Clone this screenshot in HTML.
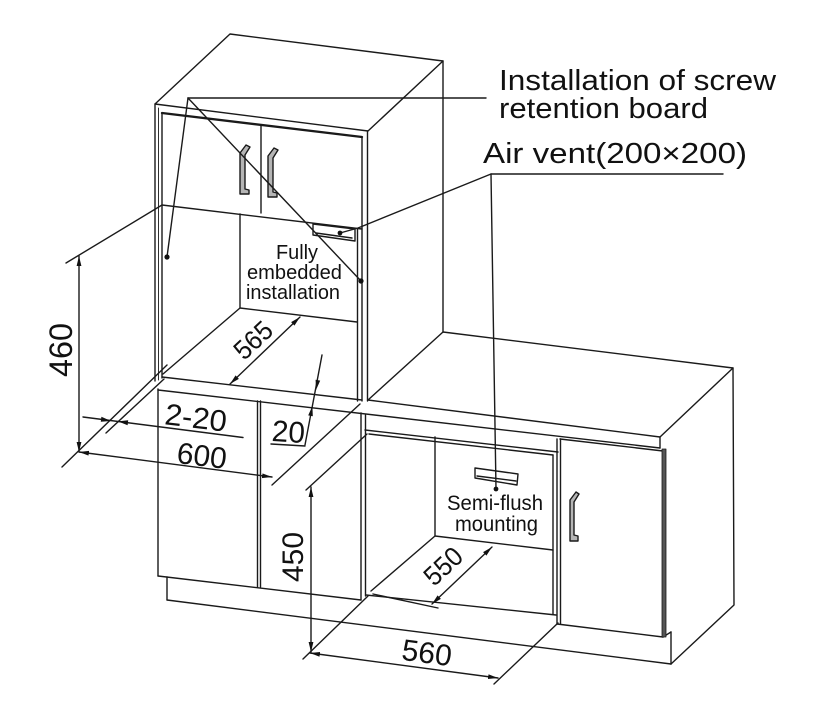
<!DOCTYPE html>
<html>
<head>
<meta charset="utf-8">
<style>
html,body{margin:0;padding:0;background:#fff;}
svg{display:block;}
text{font-family:"Liberation Sans",Arial,sans-serif;fill:#111;stroke:none;}
</style>
</head>
<body>
<svg width="838" height="706" viewBox="0 0 838 706" xmlns="http://www.w3.org/2000/svg">
<defs>
<marker id="a" markerWidth="10" markerHeight="6" refX="10" refY="3" orient="auto-start-reverse" markerUnits="userSpaceOnUse">
<path d="M0,0.6 L10,3 L0,5.4 z" fill="#111"/>
</marker>
</defs>
<rect width="838" height="706" fill="#fff"/>
<g stroke="#1a1a1a" stroke-width="1.4" fill="none" stroke-linejoin="round" stroke-linecap="round">
<!-- Tall cabinet -->
<polygon points="230,34 443,61 368,131 155,104"/>
<line x1="443" y1="61" x2="443" y2="332"/>
<line x1="155" y1="104" x2="155" y2="381"/>
<line x1="158.5" y1="108" x2="158.5" y2="380" stroke-width="0.9"/>
<line x1="162" y1="113" x2="162" y2="378"/>
<line x1="367.5" y1="131" x2="367.5" y2="401"/>
<line x1="362" y1="137" x2="362" y2="401"/>
<line x1="357.5" y1="229" x2="357.5" y2="401"/>
<line x1="162" y1="113" x2="362" y2="137" stroke-width="2.3"/>
<line x1="162" y1="205" x2="362" y2="229"/>
<line x1="261" y1="126" x2="261" y2="213"/>
<!-- upper opening -->
<polyline points="240,214 240,308 357,322"/>
<line x1="240" y1="308" x2="163" y2="374"/>
<line x1="162" y1="377" x2="362" y2="400"/>
<line x1="158" y1="390" x2="660" y2="448"/>
<!-- upper vent -->
<polygon points="313,224 313,235 355,241 355,229"/>
<line x1="316" y1="233" x2="352" y2="238"/>
<!-- handles upper -->
<polygon points="240,153 246,145 250,147 245,155 245,189 249,190 249,194 240,194" fill="#b5b5b5"/>
<polygon points="268,156 274,148 278,150 273,158 273,192 277,193 277,197 268,197" fill="#b5b5b5"/>
<!-- Lower left cabinet -->
<line x1="158" y1="389" x2="158" y2="576"/>
<line x1="257.5" y1="401" x2="257.5" y2="587"/>
<line x1="260.5" y1="401" x2="260.5" y2="587"/>
<line x1="361" y1="413" x2="361" y2="600"/>
<line x1="158" y1="576" x2="361" y2="600"/>
<line x1="167" y1="577" x2="167" y2="600"/>
<line x1="167" y1="600" x2="671" y2="664"/>
<!-- Counter -->
<polygon points="443,332 733,368 660,437 368,400"/>
<line x1="660" y1="437" x2="660" y2="448"/>
<polyline points="733,368 734,605 671,664"/>
<line x1="671" y1="632" x2="671" y2="664"/>
<line x1="663" y1="637" x2="671" y2="632"/>
<!-- Right door -->
<line x1="557" y1="439" x2="557" y2="624"/>
<line x1="560.5" y1="439" x2="560.5" y2="624"/>
<line x1="560" y1="439" x2="663" y2="451"/>
<line x1="557" y1="624" x2="663" y2="637"/>
<rect x="662" y="449" width="4" height="188" fill="#555" stroke-width="0.8"/>
<polygon points="570,500 576,492 579,494 574,502 574,535 578,536 578,541 570,541" fill="#b5b5b5"/>
<!-- Lower opening -->
<line x1="365.5" y1="415" x2="365.5" y2="596"/>
<line x1="365" y1="430" x2="558" y2="452"/>
<line x1="369" y1="434" x2="553" y2="455"/>
<line x1="553" y1="455" x2="553" y2="614"/>
<polyline points="435,437 435,536 553,550"/>
<line x1="435" y1="536" x2="371" y2="591"/>
<line x1="366" y1="595" x2="556" y2="615"/>
<line x1="373" y1="594" x2="438" y2="608"/>
<!-- lower vent -->
<polygon points="475,468 518,474 517,485 475,478"/>
<line x1="477" y1="476" x2="516" y2="481"/>
<!-- Dimensions -->
<line x1="79" y1="256" x2="79" y2="452" marker-start="url(#a)" marker-end="url(#a)"/>
<line x1="66" y1="263" x2="162" y2="205"/>
<line x1="62" y1="467" x2="167" y2="365"/>
<line x1="106" y1="433" x2="164" y2="379"/>
<line x1="83" y1="417" x2="243" y2="437.5"/>
<polygon points="111,421 100.8,421.7 101.4,416.7" fill="#111" stroke="none"/>
<polygon points="118,421.4 127.6,425.2 128.2,420.2" fill="#111" stroke="none"/>
<line x1="79" y1="452" x2="272" y2="477" marker-start="url(#a)" marker-end="url(#a)"/>
<line x1="272" y1="485" x2="360" y2="404"/>
<line x1="230" y1="384" x2="300" y2="317" marker-start="url(#a)" marker-end="url(#a)"/>
<line x1="322" y1="355" x2="305" y2="445"/>
<line x1="271" y1="444" x2="305" y2="446"/>
<polygon points="316,390 320.2,380.6 315.6,379.8" fill="#111" stroke="none"/>
<polygon points="312.4,406 312.8,416.2 308.2,415.4" fill="#111" stroke="none"/>
<line x1="311" y1="487" x2="311" y2="652" marker-start="url(#a)" marker-end="url(#a)"/>
<line x1="306" y1="490" x2="367" y2="434"/>
<line x1="310" y1="653" x2="498" y2="678" marker-start="url(#a)" marker-end="url(#a)"/>
<line x1="303" y1="659" x2="368" y2="596"/>
<line x1="494" y1="684" x2="558" y2="623"/>
<line x1="432" y1="604" x2="492" y2="547" marker-start="url(#a)" marker-end="url(#a)"/>
<!-- Leaders -->
<line x1="188" y1="98" x2="486" y2="98"/>
<line x1="188" y1="98" x2="167" y2="257"/>
<line x1="188" y1="98" x2="361" y2="281"/>
<polyline points="340,233 358,228 491,174 723,174"/>
<line x1="491" y1="174" x2="496" y2="489"/>
</g>
<g fill="#111">
<circle cx="167" cy="257" r="2.6"/>
<circle cx="361" cy="281" r="2.6"/>
<circle cx="340" cy="233" r="2.4"/>
<circle cx="496" cy="489" r="2.4"/>
</g>
<!-- Labels -->
<text x="499" y="90" font-size="29" textLength="277" lengthAdjust="spacingAndGlyphs">Installation of screw</text>
<text x="499" y="118" font-size="29" textLength="209" lengthAdjust="spacingAndGlyphs">retention board</text>
<text x="483" y="163" font-size="29" textLength="264" lengthAdjust="spacingAndGlyphs">Air vent(200×200)</text>
<text x="276" y="259" font-size="20" textLength="42" lengthAdjust="spacingAndGlyphs">Fully</text>
<text x="247" y="279" font-size="20" textLength="95" lengthAdjust="spacingAndGlyphs">embedded</text>
<text x="246" y="299" font-size="20" textLength="94" lengthAdjust="spacingAndGlyphs">installation</text>
<text x="447" y="510" font-size="21" textLength="96" lengthAdjust="spacingAndGlyphs">Semi-flush</text>
<text x="455" y="531" font-size="21" textLength="83" lengthAdjust="spacingAndGlyphs">mounting</text>
<!-- Dimension numbers -->
<text transform="translate(72,350) rotate(-90)" text-anchor="middle" font-size="32" textLength="54" lengthAdjust="spacingAndGlyphs">460</text>
<text transform="translate(303,557) rotate(-90)" text-anchor="middle" font-size="30" textLength="50" lengthAdjust="spacingAndGlyphs">450</text>
<text transform="translate(196,417) rotate(7)" y="11" text-anchor="middle" font-size="30" textLength="62" lengthAdjust="spacingAndGlyphs">2-20</text>
<text transform="translate(202,455) rotate(7)" y="11" text-anchor="middle" font-size="30" textLength="50" lengthAdjust="spacingAndGlyphs">600</text>
<text transform="translate(288.5,431) rotate(4)" y="11" text-anchor="middle" font-size="30" textLength="33" lengthAdjust="spacingAndGlyphs">20</text>
<text transform="translate(427,652) rotate(7.5)" y="11" text-anchor="middle" font-size="30" textLength="50" lengthAdjust="spacingAndGlyphs">560</text>
<text transform="translate(253,340) rotate(-43)" y="9.5" text-anchor="middle" font-size="27" textLength="42" lengthAdjust="spacingAndGlyphs">565</text>
<text transform="translate(443,566) rotate(-43)" y="9.5" text-anchor="middle" font-size="27" textLength="42" lengthAdjust="spacingAndGlyphs">550</text>
</svg>
</body>
</html>
